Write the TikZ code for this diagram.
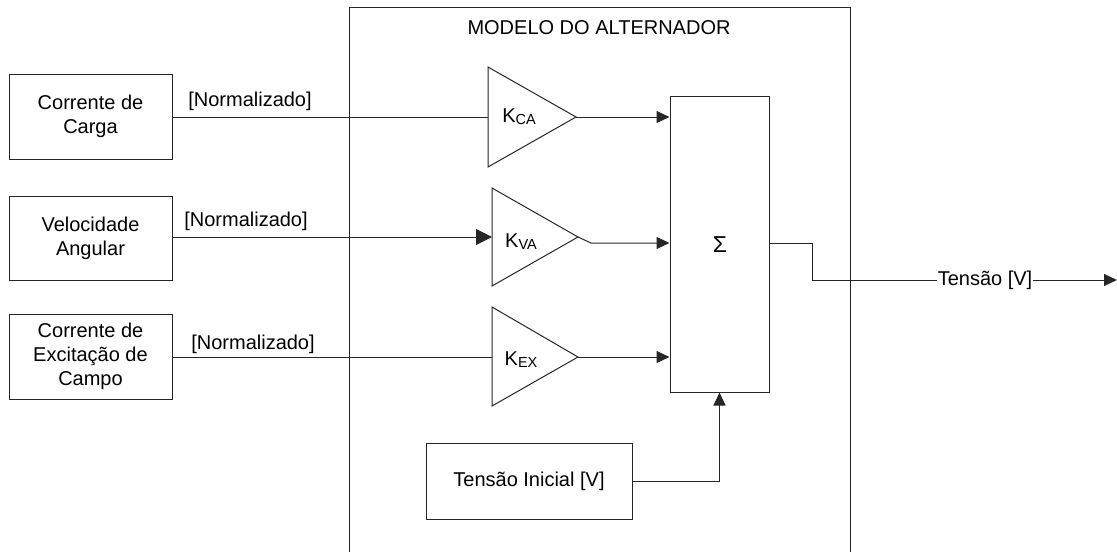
\documentclass[tikz,border=0pt]{standalone}
\usepackage{fontspec}
\setmainfont{Liberation Sans}
\usetikzlibrary{arrows.meta}
\begin{document}
\begin{tikzpicture}[x=1pt,y=-1pt,
  ln/.style={draw=black!85, line width=1pt},
  blk/.style={ln, rectangle, inner sep=0pt, align=center, font=\fontsize{20}{24}\selectfont},
  lbl/.style={inner sep=0pt, font=\fontsize{20}{24}\selectfont},
  arr/.style={ln, -{Triangle[length=13pt,width=12pt]}},
  bigarr/.style={ln, -{Triangle[length=16pt,width=16pt]}},
  gain/.style={ln, line join=miter}]
\useasboundingbox (0,0) rectangle (1117,552);
% outer frame (open at the bottom)
\draw[ln] (349,552) -- (349,7) -- (850,7) -- (850,552);
\node[lbl] (title) at (599,28) {MODELO DO ALTERNADOR};
% input blocks
\node[blk, minimum width=163pt, minimum height=85pt] (b1) at (90.5,116.5) {Corrente de\\Carga};
\node[blk, minimum width=163pt, minimum height=84pt] (b2) at (90.5,238) {Velocidade\\Angular};
\node[blk, minimum width=163pt, minimum height=85pt] (b3) at (90.5,356.5) {Corrente de\\Excitação de\\Campo};
\node[lbl] (n1) at (250,101) {[Normalizado]};
\node[lbl] (n2) at (246,221) {[Normalizado]};
\node[lbl] (n3) at (253,344) {[Normalizado]};
% gains
\coordinate (ca-in) at (488,117); \coordinate (ca-out) at (576,117);
\coordinate (va-in) at (492,237); \coordinate (va-out) at (578,237);
\coordinate (ex-in) at (492,357); \coordinate (ex-out) at (578,357);
\draw[gain] (488,67) -- (ca-out) -- (488,167) -- cycle;
\draw[gain] (492,188) -- (va-out) -- (492,286) -- cycle;
\draw[gain] (492,307) -- (ex-out) -- (492,406) -- cycle;
\node[lbl] (kca) at (519,117) {K\raisebox{-2pt}{\fontsize{14.5}{14.5}\selectfont CA}};
\node[lbl] (kva) at (521,242) {K\raisebox{-2pt}{\fontsize{14.5}{14.5}\selectfont VA}};
\node[lbl] (kex) at (521,360) {K\raisebox{-2pt}{\fontsize{14.5}{14.5}\selectfont EX}};
% sum block
\node[blk, minimum width=99pt, minimum height=296pt] (sum) at (719.5,244) {};
\node[lbl, font=\fontsize{23}{26}\selectfont] (sigma) at (720,245) {Σ};
% initial voltage block
\node[blk, minimum width=206pt, minimum height=76pt] (ti) at (529,481) {Tensão Inicial [V]};
% connectors
\draw[ln] (b1.east |- ca-in) -- (ca-in);
\draw[bigarr] (b2.east |- va-in) -- (va-in);
\draw[ln] (b3.east |- ex-in) -- (ex-in);
\draw[arr] (ca-out) -- (ca-out -| sum.west);
\coordinate (va-bend) at (591,243);
\draw[arr] (va-out) -- (va-bend) -- (va-bend -| sum.west);
\draw[arr] (ex-out) -- (ex-out -| sum.west);
\draw[arr] (ti.east) -| (sum.south);
% output
\coordinate (o1) at (769,243);
\coordinate (o2) at (812,243);
\coordinate (o3) at (812,280);
\coordinate (oend) at (1117,280);
\node[lbl, inner sep=0.5pt] (out) at (985,280) {Tensão [V]};
\draw[ln] (sum.east |- o1) -- (o2) -- (o3) -- (out.west);
\draw[arr] (out.east) -- (oend);
\end{tikzpicture}
\end{document}
